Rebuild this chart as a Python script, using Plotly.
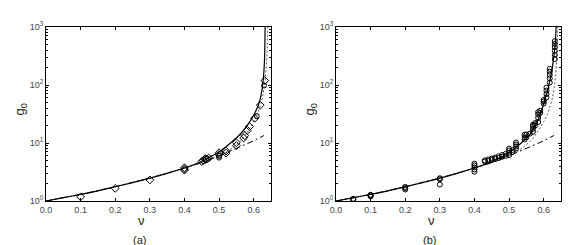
import plotly.graph_objects as go

# ---------------- data ----------------
# model curves
solid_a_nu = [0, 0.05, 0.1, 0.15, 0.2, 0.25, 0.3, 0.35, 0.4, 0.43, 0.46, 0.48, 0.5, 0.52, 0.54,
              0.56, 0.58, 0.59, 0.60, 0.61, 0.615, 0.62, 0.625, 0.628, 0.631, 0.633]
solid_a_g = [1, 1.14, 1.30, 1.50, 1.76, 2.08, 2.48, 3.0, 3.70, 4.3, 5.2, 6.0, 7.0, 8.6, 10.8,
             14.0, 19.5, 24, 30, 40, 48, 62, 90, 130, 250, 1000]

solid_b_nu = [0, 0.05, 0.1, 0.15, 0.2, 0.25, 0.3, 0.35, 0.4, 0.43, 0.46, 0.48, 0.5, 0.52, 0.54,
              0.56, 0.575, 0.585, 0.595, 0.60, 0.608, 0.615, 0.62, 0.625, 0.63, 0.633, 0.635, 0.636]
solid_b_g = [1, 1.14, 1.30, 1.50, 1.76, 2.08, 2.48, 3.0, 3.70, 4.3, 5.1, 5.8, 6.8, 8.4, 10.6,
             14.0, 19.5, 26, 38, 48, 68, 100, 135, 200, 330, 500, 750, 1000]

dotted_nu = [0, 0.1, 0.2, 0.3, 0.4, 0.45, 0.5, 0.52, 0.54, 0.56, 0.58, 0.59, 0.60, 0.61,
             0.62, 0.625, 0.63, 0.634, 0.637, 0.639, 0.6405]
dotted_g = [1, 1.30, 1.76, 2.48, 3.70, 4.6, 6.0, 7.0, 8.4, 10.6, 14.8, 18.5, 23.5, 30.5,
            46, 60, 90, 140, 240, 450, 1000]

dashdot_nu = [0, 0.1, 0.2, 0.3, 0.4, 0.45, 0.5, 0.55, 0.6, 0.63]
dashdot_g = [1, 1.30, 1.76, 2.48, 3.70, 4.58, 6.0, 8.1, 10.9, 13.5]

# panel (a) simulation points
dia_a_nu = [0.1, 0.2, 0.3, 0.4, 0.4, 0.4, 0.45, 0.455, 0.46, 0.46, 0.465, 0.47, 0.5, 0.5,
            0.52, 0.52, 0.55, 0.55, 0.571, 0.574, 0.582, 0.588, 0.603, 0.619, 0.632]
dia_a_g = [1.18, 1.65, 2.31, 3.4, 3.55, 3.75, 4.8, 5.0, 5.2, 5.4, 5.3, 5.5, 6.3, 6.8,
           6.7, 7.25, 9.0, 10.1, 12.2, 13.4, 16.5, 19.2, 26.7, 45, 119]
circ_a_nu = [0.5, 0.5, 0.609, 0.630]
circ_a_g = [5.6, 6.0, 29, 98]

# panel (b) simulation points
circ_b_nu = [0.05, 0.05, 0.05, 0.1, 0.1, 0.1, 0.2, 0.2, 0.2, 0.3, 0.3, 0.3,
             0.4, 0.4, 0.4, 0.4, 0.4, 0.43, 0.43, 0.44, 0.44, 0.45, 0.45, 0.46, 0.46,
             0.47, 0.47, 0.48, 0.48, 0.49, 0.49, 0.5, 0.5, 0.5, 0.5, 0.51, 0.51,
             0.52, 0.52, 0.52, 0.52, 0.545, 0.545, 0.545, 0.55, 0.55, 0.56,
             0.569, 0.569, 0.569, 0.569, 0.575, 0.575, 0.584, 0.584, 0.584, 0.584,
             0.59, 0.59, 0.6, 0.6, 0.6, 0.608, 0.608, 0.608, 0.608,
             0.6175, 0.6175, 0.6175, 0.6175, 0.6175,
             0.632, 0.632, 0.632, 0.632, 0.632, 0.632]
circ_b_g = [1.05, 1.07, 1.09, 1.2, 1.25, 1.28, 1.58, 1.67, 1.75, 1.92, 2.38, 2.47,
            3.2, 3.5, 3.8, 4.1, 4.4, 4.8, 5.0, 4.9, 5.2, 5.1, 5.4, 5.3, 5.6,
            5.5, 5.9, 5.8, 6.2, 6.0, 6.5, 6.2, 6.8, 7.4, 8.0, 7.0, 7.6,
            8.0, 8.7, 9.4, 10.2, 11.5, 12.5, 13.9, 12.5, 14.0, 14.5,
            15.6, 17.5, 19.5, 20.6, 20, 22, 23, 27, 31, 34,
            33, 36, 48, 52, 55, 61, 70, 80, 90,
            110, 130, 150, 170, 190,
            280, 330, 390, 450, 510, 570]

x_ticks = [0.0, 0.1, 0.2, 0.3, 0.4, 0.5, 0.6]
x_tick_text = ["0.0", "0.1", "0.2", "0.3", "0.4", "0.5", "0.6"]
y_major = [1, 10, 100, 1000]
y_major_text = ["10<sup>0</sup>", "10<sup>1</sup>", "10<sup>2</sup>", "10<sup>3</sup>"]
y_minor = [2, 3, 4, 5, 6, 7, 8, 9, 20, 30, 40, 50, 60, 70, 80, 90,
           200, 300, 400, 500, 600, 700, 800, 900]

# ---------------- figure ----------------
W, H = 581, 245
ML, MR, MT, MB = 38, 28, 16, 52
PW = W - ML - MR
PH = H - MT - MB

fig = go.Figure()

def add_panel(xa, ya, solid_nu, solid_g):
    fig.add_trace(go.Scatter(x=dashdot_nu, y=dashdot_g, mode="lines", xaxis=xa, yaxis=ya,
                             line=dict(color="black", width=1, dash="6px,3px,2px,3px"),
                             showlegend=False))
    fig.add_trace(go.Scatter(x=dotted_nu, y=dotted_g, mode="lines", xaxis=xa, yaxis=ya,
                             line=dict(color="#555", width=1, dash="2px,2px", shape="spline"),
                             showlegend=False))
    fig.add_trace(go.Scatter(x=solid_nu, y=solid_g, mode="lines", xaxis=xa, yaxis=ya,
                             line=dict(color="black", width=1.2, shape="spline"), showlegend=False))

add_panel("x", "y", solid_a_nu, solid_a_g)
fig.add_trace(go.Scatter(x=dia_a_nu, y=dia_a_g, mode="markers", xaxis="x", yaxis="y",
                         marker=dict(symbol="diamond-open", size=6, color="black",
                                     line=dict(width=1)), showlegend=False))
fig.add_trace(go.Scatter(x=circ_a_nu, y=circ_a_g, mode="markers", xaxis="x", yaxis="y",
                         marker=dict(symbol="circle-open", size=5, color="black",
                                     line=dict(width=1)), showlegend=False))

add_panel("x2", "y2", solid_b_nu, solid_b_g)
fig.add_trace(go.Scatter(x=circ_b_nu, y=circ_b_g, mode="markers", xaxis="x2", yaxis="y2",
                         marker=dict(symbol="circle-open", size=5, color="black",
                                     line=dict(width=1)), showlegend=False))

tickfont = dict(family="Liberation Sans, Arial, sans-serif", size=9, color="#444")
xcommon = dict(range=[0, 0.65], tickvals=x_ticks, ticktext=x_tick_text, ticks="inside",
               ticklen=3, tickcolor="black", showline=True, linecolor="black", linewidth=1,
               mirror="ticks", showgrid=False, zeroline=False, tickfont=tickfont)
ycommon = dict(type="log", range=[0, 3], tickvals=y_major, ticktext=y_major_text,
               ticks="inside", ticklen=3, tickcolor="black", showline=True, linecolor="black",
               linewidth=1, mirror="ticks", showgrid=False, zeroline=False, tickfont=tickfont,
               minor=dict(tickmode="array", tickvals=y_minor, ticks="inside", ticklen=2,
                          tickcolor="black", showgrid=False))

a_left, a_right = 38, 263
b_left, b_right = 328, 553
fig.update_layout(
    width=W, height=H, margin=dict(l=ML, r=MR, t=MT, b=MB),
    paper_bgcolor="white", plot_bgcolor="white",
    xaxis=dict(domain=[(a_left - ML) / PW, (a_right - ML) / PW], anchor="y", **xcommon),
    yaxis=dict(domain=[0, 1], anchor="x", **ycommon),
    xaxis2=dict(domain=[(b_left - ML) / PW, (b_right - ML) / PW], anchor="y2", **xcommon),
    yaxis2=dict(domain=[0, 1], anchor="x2", **ycommon),
)

def px(xp):
    return (xp - ML) / PW

def py(yp):
    return (H - MB - yp) / PH

afont = dict(family="Liberation Sans, Arial, sans-serif", size=13, color="#222")
lfont = dict(family="Liberation Sans, Arial, sans-serif", size=11, color="#222")
ann = [
    dict(x=px(133), y=py(213), text="ν", font=afont),
    dict(x=px(423), y=py(213), text="ν", font=afont),
    dict(x=px(13), y=py(100), text="g<sub>0</sub>", font=afont, textangle=-90),
    dict(x=px(303), y=py(100), text="g<sub>0</sub>", font=afont, textangle=-90),
    dict(x=px(131), y=py(233), text="(a)", font=lfont),
    dict(x=px(421), y=py(233), text="(b)", font=lfont),
]
for a in ann:
    a.update(xref="paper", yref="paper", showarrow=False, xanchor="center", yanchor="middle")
fig.update_layout(annotations=ann)

fig.write_html("out.html")
